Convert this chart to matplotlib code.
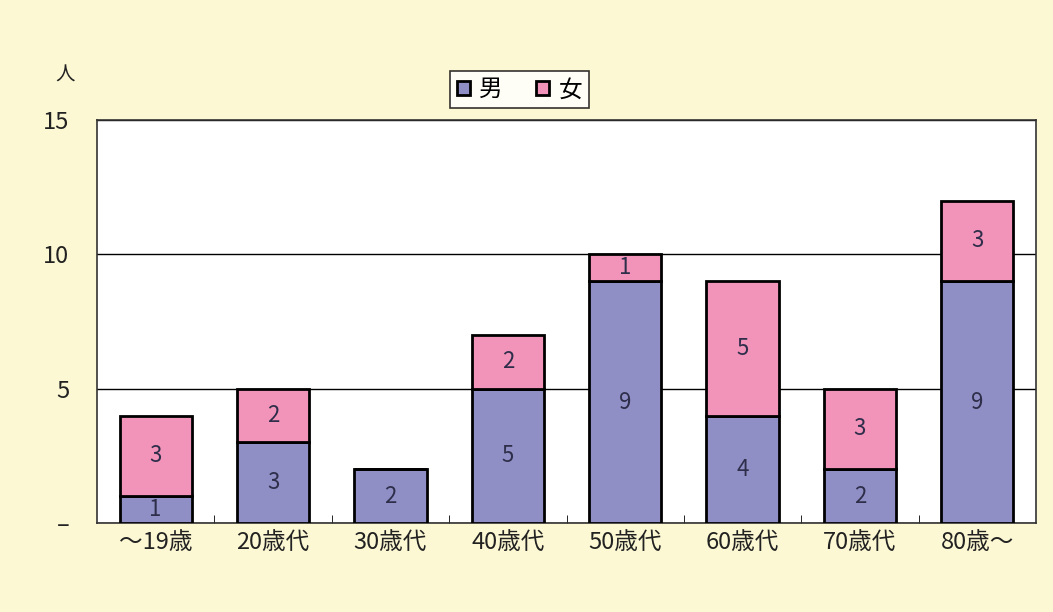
import numpy as np
import matplotlib.pyplot as plt

plt.rcParams['font.family'] = ['Noto Sans CJK JP', 'DejaVu Sans']

categories = ["～19歳", "20歳代", "30歳代", "40歳代", "50歳代", "60歳代", "70歳代", "80歳～"]
male = [1, 3, 2, 5, 9, 4, 2, 9]
female = [3, 2, 0, 2, 1, 5, 3, 3]

bg = "#FCF8D3"
male_color = "#8F8FC6"
female_color = "#F293B9"
text_color = "#2E2E4A"

fig = plt.figure(figsize=(10.53, 6.12), dpi=100, facecolor=bg)
ax = fig.add_axes([0.0921, 0.1454, 0.8918, 0.6585])
ax.set_facecolor("white")

x = np.arange(len(categories))
w = 0.615
ax.bar(x, male, w, color=male_color, edgecolor="black", linewidth=2, label="男", zorder=3)
ax.bar(x, female, w, bottom=male, color=female_color, edgecolor="black", linewidth=2,
       label="女", zorder=3)

# value labels inside segments
for i in range(len(categories)):
    if male[i] > 0:
        ax.text(x[i], male[i] / 2, str(male[i]), ha="center", va="center",
                fontsize=16, color=text_color, zorder=4)
    if female[i] > 0:
        ax.text(x[i], male[i] + female[i] / 2, str(female[i]), ha="center", va="center",
                fontsize=16, color=text_color, zorder=4)

ax.set_xlim(-0.5, len(categories) - 0.5)
ax.set_ylim(0, 15)
ax.set_yticks([0, 5, 10, 15])
ax.set_yticklabels(["–", "5", "10", "15"])
ax.yaxis.grid(True, color="black", linewidth=1, zorder=0)
ax.set_xticks(x)
ax.set_xticklabels(categories)
ax.set_xticks(np.arange(len(categories) - 1) + 0.5, minor=True)
ax.tick_params(axis="x", which="major", length=0, pad=6, labelsize=17, colors="#222222")
ax.tick_params(axis="x", which="minor", length=6, direction="in", color="black")
ax.tick_params(axis="y", length=0, pad=20, labelsize=17, colors="#222222")

for s in ax.spines.values():
    s.set_color("#333333")
    s.set_linewidth(1.2)

fig.text(0.062, 0.878, "人", fontsize=14, ha="center", va="center", color="#222222")

leg = ax.legend(loc="center", bbox_to_anchor=(0.45, 1.075), ncol=2, frameon=True,
                fontsize=17, handlelength=0.55, handleheight=0.55, handletextpad=0.4,
                columnspacing=1.4, borderpad=0.3, borderaxespad=0, fancybox=False)
leg.get_frame().set_edgecolor("black")
leg.get_frame().set_linewidth(1.2)

fig.savefig("out.png", dpi=100, facecolor=bg)
